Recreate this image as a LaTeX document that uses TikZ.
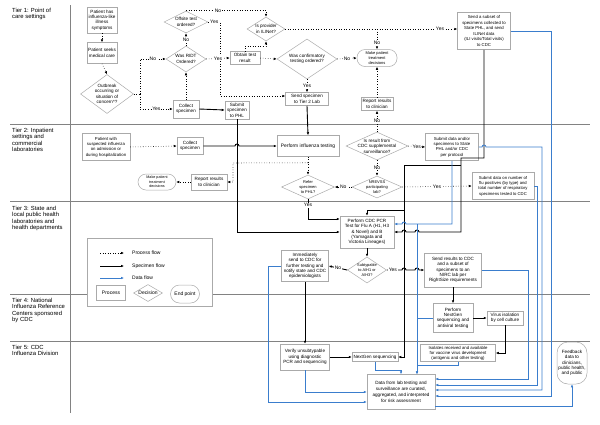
\documentclass[tikz,border=0pt]{standalone}
\usepackage{fontspec}
\setmainfont{Liberation Sans}
\usetikzlibrary{shapes.geometric,arrows.meta,positioning}

\definecolor{flowblue}{RGB}{58,125,205}
\definecolor{boxgray}{RGB}{170,170,170}
\definecolor{lanegray}{RGB}{130,130,130}

\begin{document}
\begin{tikzpicture}[x=1pt, y=-1pt,
					font=\fontsize{4.6}{5.4}\selectfont,
					processnode/.style={rectangle,
					draw=boxgray,
					fill=white,
					line width=0.5pt,
					inner sep=0.5pt,
					align=center},
					decisionnode/.style={diamond,
					draw=boxgray,
					fill=white,
					line width=0.5pt,
					inner sep=-4pt,
					align=center},
					endnode/.style={rectangle,
					rounded corners=8pt,
					draw=boxgray,
					fill=white,
					line width=0.5pt,
					inner sep=0.5pt,
					align=center},
					tiernode/.style={anchor=north west,
					inner sep=0pt,
					align=left,
					font=\fontsize{5.9}{6.4}\selectfont},
					answer/.style={fill=white, inner sep=0.6pt, font=\fontsize{5}{6}\selectfont},
					processflow/.style={dotted, line width=0.55pt, -{Latex[length=3pt,width=2.6pt]}},
					specimenflow/.style={line width=0.9pt, -{Latex[length=3pt,width=2.6pt]}},
					dataflow/.style={flowblue, line width=0.8pt, -{Latex[length=3pt,width=2.6pt]}}
					]

\useasboundingbox (0,0) rectangle (600,424);

% lanes
\draw[lanegray, line width=0.6pt] (70,5) -- (70,413);
\draw[lanegray, line width=0.6pt] (10,124) -- (590,124);
\draw[lanegray, line width=0.6pt] (10,201) -- (590,201);
\draw[lanegray, line width=0.6pt] (10,294) -- (590,294);
\draw[lanegray, line width=0.6pt] (10,341) -- (590,341);

% tier labels
\node[tiernode] (tierone) at (12,8) {Tier 1: Point of\\care settings};
\node[tiernode] (tiertwo) at (12,128) {Tier 2: Inpatient\\settings and\\commercial\\laboratories};
\node[tiernode] (tierthree) at (12,206) {Tier 3: State and\\local public health\\laboratories and\\health departments};
\node[tiernode] (tierfour) at (12,298) {Tier 4: National\\Influenza Reference\\Centers sponsored\\by CDC};
\node[tiernode] (tierfive) at (12,345) {Tier 5: CDC\\Influenza Division};

% tier 1
\node[processnode, minimum width=30, minimum height=26] (ilisymptoms) at (102,20) {Patient has\\influenza-like\\illness\\symptoms};
\node[processnode, minimum width=30, minimum height=21, below=9pt of ilisymptoms] (seekcare) {Patient seeks\\medical care};
\node[decisionnode, aspect=1.36, minimum width=53, minimum height=39] (outbreak) at (107,94) {Outbreak\\occurring or\\situation of\\concern*?};
\node[decisionnode, aspect=2, minimum width=44, minimum height=22] (offsite) at (186,22) {Offsite test\\ordered?};
\node[decisionnode, aspect=1.5, minimum width=40, minimum height=26] (ridt) at (186,59) {Was RIDT\\Ordered?};
\node[processnode, minimum width=26, minimum height=18] (collect) at (186,109) {Collect\\specimen};
\node[decisionnode, aspect=1.6, minimum width=38, minimum height=24] (ilinet) at (266,29) {Is provider\\in ILINet?};
\node[processnode, minimum width=30, minimum height=13] (obtain) at (245,58) {Obtain test\\result};
\node[decisionnode, aspect=1.5, minimum width=60, minimum height=40] (confirm) at (307,59) {Was confirmatory\\testing ordered?};
\node[endnode, minimum width=40, minimum height=17, font=\fontsize{4}{4.7}\selectfont] (treat) at (377,58) {Make patient\\treatment\\decisions};
\node[processnode, minimum width=43, minimum height=13] (sendtwo) at (307,99) {Send specimen\\to Tier 2 Lab};
\node[processnode, minimum width=24, minimum height=18] (submit) at (237,110) {Submit\\specimen\\to PHL};
\node[processnode, minimum width=32, minimum height=13] (report) at (377,104) {Report results\\to clinician};
\node[processnode, minimum width=53, minimum height=37, font=\fontsize{4.3}{5.5}\selectfont] (subset) at (484,31) {Send a subset of\\specimens collected to\\State PHL, and send\\ILINet data\\(ILI visits/Total visits)\\to CDC};

% tier 2
\node[processnode, minimum width=48, minimum height=27, font=\fontsize{4.3}{5.4}\selectfont] (inpatient) at (106,147) {Patient with\\suspected influenza\\on admission or\\during hospitalization};
\node[processnode, minimum width=26, minimum height=17] (collecttwo) at (190,146) {Collect\\specimen};
\node[processnode, minimum width=62, minimum height=21, font=\fontsize{4.9}{5.8}\selectfont] (testing) at (308,146) {Perform influenza testing};
\node[decisionnode, aspect=2.2, minimum width=62, minimum height=28] (suppl) at (377,146) {Is result from\\CDC supplemental\\surveillance?};
\node[processnode, minimum width=53, minimum height=27, font=\fontsize{4.3}{5.3}\selectfont] (subdata) at (452,147) {Submit data and/or\\specimens to State\\PHL and/or CDC\\per protocol};
\node[processnode, minimum width=36, minimum height=16] (reporttwo) at (209,182) {Report results\\to clinician};
\node[endnode, minimum width=38, minimum height=16, font=\fontsize{3.7}{4.4}\selectfont] (treattwo) at (157,182) {Make patient\\treatment\\decisions};
\node[decisionnode, aspect=2.2, minimum width=53, minimum height=24, font=\fontsize{4}{4.8}\selectfont] (refer) at (308,187) {Refer\\specimen\\to PHL?};
\node[decisionnode, aspect=2.3, minimum width=50, minimum height=22, font=\fontsize{4}{4.8}\selectfont] (nrevss) at (377,187) {NREVSS\\participating\\lab?};
\node[processnode, minimum width=62, minimum height=27, font=\fontsize{4.2}{5.3}\selectfont] (flupos) at (503,186) {Submit data on number of\\flu positives (by type) and\\total number of respiratory\\specimens tested to CDC};

% tier 3
\node[processnode, minimum width=54, minimum height=32] (pcr) at (367,232) {Perform CDC PCR\\Test for Flu A (H1, H3\\\& Novel) and B\\(Yamagata and\\Victoria Lineages)};
\node[decisionnode, aspect=1.5, minimum width=39, minimum height=26, font=\fontsize{3.9}{4.6}\selectfont] (subtype) at (367,270) {Subtypable\\to A/H1 or\\A/H3?};
\node[processnode, minimum width=47, minimum height=31] (immediate) at (305,266) {Immediately\\send to CDC for\\further testing and\\notify state and CDC\\epidemiologists};
\node[processnode, minimum width=57, minimum height=34] (nirc) at (453,270) {Send results to CDC\\and a subset of\\specimens to an\\NIRC lab per\\RightSize requirements};

% legend
\node[draw=boxgray, fill=white, line width=0.5pt, inner sep=0pt, minimum width=125, minimum height=68, anchor=north west] (legend) at (87,238) {};
\node[anchor=west, inner sep=0pt, font=\fontsize{5}{6}\selectfont] (lgprocess) at (132,253) {Process flow};
\node[anchor=west, inner sep=0pt, font=\fontsize{5}{6}\selectfont] (lgspecimen) at (132,266) {Specimen flow};
\node[anchor=west, inner sep=0pt, font=\fontsize{5}{6}\selectfont] (lgdata) at (132,278) {Data flow};
\node[processnode, minimum width=29, minimum height=15, font=\fontsize{5}{6}\selectfont] (lgbox) at (111,293) {Process};
\node[decisionnode, aspect=1.7, minimum width=29, minimum height=17, font=\fontsize{5}{6}\selectfont] (lgdecision) at (148,293) {Decision};
\node[endnode, rounded corners=9pt, minimum width=29, minimum height=18, font=\fontsize{5}{6}\selectfont] (lgend) at (185,294) {End point};

% tier 4
\node[processnode, minimum width=40, minimum height=29] (nextgen) at (453,318) {Perform\\NextGen\\sequencing and\\antiviral testing};
\node[processnode, minimum width=36, minimum height=14] (virus) at (505,318) {Virus isolation\\by cell culture};

% tier 5
\node[processnode, minimum width=49, minimum height=26] (verify) at (305,357) {Verify unsubtypable\\using diagnostic\\PCR and sequencing};
\node[processnode, minimum width=46, minimum height=9] (ngseq) at (375,357) {NextGen sequencing};
\node[processnode, minimum width=75, minimum height=17, font=\fontsize{4.3}{5}\selectfont] (isolates) at (458,353) {Isolates received and available\\for vaccine virus development\\(antigenic and other testing)};
\node[processnode, minimum width=68, minimum height=35, font=\fontsize{4.6}{5.8}\selectfont] (riskdata) at (401,392) {Data from lab testing and\\surveillance are curated,\\aggregated, and interpreted\\for risk assessment};
\node[endnode, rounded corners=11pt, minimum width=30, minimum height=42] (feedback) at (572,363) {Feedback\\data to\\clinicians,\\public health,\\and public};

% junctions
\coordinate (obsplit) at (140,94);
\coordinate (ngfork) at (461,165);
\coordinate (pcrfork) at (404,210);
\coordinate (bluesplit) at (417,224);

% process flow
\draw[processflow] (ilisymptoms.south) -- (seekcare.north);
\draw[processflow] (seekcare.south) -- (outbreak.north);
\draw[dotted, line width=0.55pt] (outbreak.east) -- (obsplit);
\draw[processflow] (obsplit) |- node[answer, pos=0.75] {No} (ridt.west);
\draw[processflow] (obsplit) |- node[answer, pos=0.75] {Yes} (collect.west);
\draw[processflow] (collect.north) -- (ridt.south);
\draw[processflow] (ridt.north) -- node[answer] {No} (offsite.south);
\draw[processflow] (offsite.north) -| node[answer, pos=0.2] {No} (ilinet.north);
\draw[processflow] (offsite.east) -- node[answer] {Yes} ++(12,0) |- ([yshift=3pt]sendtwo.west);
\draw[processflow] (ridt.east) -- node[answer] {Yes} (obtain.west);
\draw[processflow] (obtain.north) -- ++(0,-5) -| (ilinet.south);
\draw[processflow] (obtain.east) -- (confirm.west);
\draw[processflow] (confirm.east) -- node[answer] {No} (treat.west);
\draw[processflow] (confirm.south) -- node[answer] {Yes} (sendtwo.north);
\draw[processflow] (ilinet.east) -- node[answer, pos=0.9] {Yes} (ilinet.east -| subset.west);
\draw[processflow] (treat.north |- ilinet.east) -- node[answer, pos=0.7] {No} (treat.north);
\draw[processflow] (report.north) -- (treat.south);
\draw[processflow] (suppl.north) -- node[answer] {No} (report.south);

\draw[processflow] (inpatient.east) -- (collecttwo.west);
\draw[processflow] (testing.south) -- (refer.north);
\draw[processflow] ([yshift=-6pt]testing.south) -- (233,163) |- (reporttwo.east);
\draw[processflow] (reporttwo.west) -- (treattwo.east);
\draw[processflow] (suppl.south) -- node[answer] {No} (nrevss.north);
\draw[processflow] (suppl.east) -- node[answer] {Yes} (subdata.west);
\draw[processflow] (nrevss.west) -- node[answer] {No} (refer.east);
\draw[processflow] (nrevss.east) -- node[answer] {Yes} (flupos.west);

% specimen flow
\draw[specimenflow] (collect.east) -- (submit.west);
\draw[specimenflow] (sendtwo.south) -- (testing.north);
\draw[specimenflow] (submit.south) |- (pcr.west);
\draw[specimenflow] (collecttwo.east) -- (235,146) arc[start angle=180, end angle=0, radius=2pt] -- (testing.west);
\draw[specimenflow] (refer.south) |- node[answer, pos=0.15] {Yes} ([yshift=13pt]pcr.west);
\draw[specimenflow] (subset.south) |- (484,158) -| (461,232) -- (419,232) arc[start angle=0, end angle=180, radius=2pt] -- (406,232) arc[start angle=0, end angle=180, radius=2pt] -- (pcr.east);
\draw[line width=0.9pt] (ngfork) -- (404,165) -- (pcrfork);
\draw[specimenflow] (pcrfork) |- (ngseq.east);
\draw[specimenflow] (pcrfork) -| (pcr.north);
\draw[specimenflow] (pcr.south) -- (subtype.north);
\draw[specimenflow] (subtype.west) -- node[answer] {No} (immediate.east);
\draw[specimenflow] (subtype.east) -- node[answer, pos=0.4] {Yes} (402,270) arc[start angle=180, end angle=0, radius=2pt] -- (415,270) arc[start angle=180, end angle=0, radius=2pt] -- (nirc.west);
\draw[specimenflow] (immediate.south) -- (verify.north);
\draw[specimenflow] (verify.east) -- (ngseq.west);
\draw[specimenflow] (nirc.south) -- (nextgen.north);
\draw[specimenflow] (nextgen.east) -- (virus.west);
\draw[specimenflow] (virus.south) |- (isolates.east);

% data flow
\draw[dataflow] (subdata.south) |- (406,224) arc[start angle=0, end angle=180, radius=2pt] -- ([yshift=8pt]pcr.east);
\draw[dataflow] (bluesplit) -- ([xshift=16pt]riskdata.north);
\draw[dataflow, -] (nextgen.west) -- (bluesplit |- nextgen.west);
\draw[dataflow] (isolates.south) -- ++(0,4) -| ([xshift=16pt]riskdata.north);
\draw[dataflow] (ngseq.south) -- ++(0,9) -| (riskdata.north);
\draw[dataflow] (subdata.east) -- (482,147) arc[start angle=180, end angle=0, radius=2pt] -- (542,147) |- ([yshift=2pt]riskdata.east);
\draw[dataflow] (flupos.east) -- (537,186) |- ([yshift=7pt]riskdata.east);
\draw[dataflow] (nirc.east) -- (528,270) |- ([yshift=13pt]riskdata.east);
\draw[dataflow] (subset.east) -- (551,31) |- ([yshift=-4pt]riskdata.east);
\draw[dataflow] ([yshift=-14pt]riskdata.east) -| (feedback.south);
\draw[dataflow] (immediate.west) -- (268,266) |- ([yshift=-10pt]riskdata.west);
\draw[dataflow] (verify.south) |- (riskdata.west);

% legend arrows
\draw[processflow] ([xshift=-32pt]lgprocess.west) -- ([xshift=-8pt]lgprocess.west);
\draw[specimenflow] ([xshift=-32pt]lgspecimen.west) -- ([xshift=-8pt]lgspecimen.west);
\draw[dataflow] ([xshift=-32pt]lgdata.west) -- ([xshift=-8pt]lgdata.west);

\end{tikzpicture}
\end{document}
